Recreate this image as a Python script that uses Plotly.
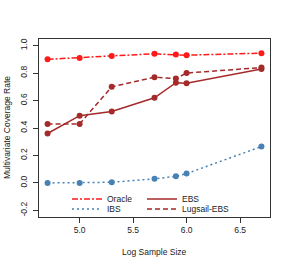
import plotly.graph_objects as go

log_n = [4.7, 5.0, 5.3, 5.7, 5.9, 6.0, 6.7]
oracle = [0.90, 0.91, 0.925, 0.94, 0.935, 0.93, 0.945]
ebs = [0.36, 0.49, 0.52, 0.62, 0.73, 0.725, 0.83]
ibs = [0.0, 0.0, 0.005, 0.03, 0.048, 0.068, 0.265]
lugsail = [0.43, 0.43, 0.70, 0.77, 0.76, 0.80, 0.84]

series_names = ["Oracle", "IBS", "EBS", "Lugsail-EBS"]
x_ticks = [5.0, 5.5, 6.0, 6.5]
y_ticks = [-0.2, 0.0, 0.2, 0.4, 0.6, 0.8, 1.0]

RED = "#FF1A1A"
BROWN = "#A52A2A"
BLUE = "#4682B4"
FAM = "Liberation Sans, Arial, sans-serif"
TXT = "#222"
FS = 8.5

W, H = 291, 267
L, R, T, B = 39, 21, 39, 50
PW, PH = W - L - R, H - T - B

fig = go.Figure()

specs = [
    (series_names[0], oracle, RED, "6px,2px,2px,2px", "legend", 107, 199),
    (series_names[1], ibs, BLUE, "2px,3px", "legend2", 107, 209),
    (series_names[2], ebs, BROWN, "solid", "legend3", 182, 199),
    (series_names[3], lugsail, BROWN, "5px,3px", "legend4", 182, 209),
]

legends = {}
for name, y, color, dash, leg, tx, ty in specs:
    fig.add_trace(go.Scatter(
        x=log_n, y=y, name=name, mode="lines+markers",
        line=dict(color=color, dash=dash, width=1.5),
        marker=dict(color=color, size=6, symbol="circle"),
        showlegend=False,
    ))
    fig.add_trace(go.Scatter(
        x=[None], y=[None], name=name, mode="lines",
        line=dict(color=color, dash=dash, width=1.5),
        legend=leg, showlegend=True, hoverinfo="skip",
    ))
    legends[leg] = dict(
        x=(tx - 40 - L) / PW, y=(T + PH - ty) / PH,
        xanchor="left", yanchor="middle", orientation="h",
        bgcolor="rgba(0,0,0,0)", borderwidth=0,
        font=dict(family=FAM, size=FS, color=TXT),
    )

fig.update_layout(
    width=W, height=H,
    margin=dict(l=L, r=R, t=T, b=B),
    paper_bgcolor="white", plot_bgcolor="white",
    font=dict(family=FAM, size=FS, color=TXT),
    showlegend=True,
    **legends,
    xaxis=dict(
        range=[4.62, 6.78], tickvals=x_ticks, ticktext=[f"{v:.1f}" for v in x_ticks],
        showgrid=False, zeroline=False, showline=True, mirror=True, linecolor="#333", linewidth=1,
        ticks="outside", ticklen=5, tickcolor="#333", automargin=False,
        tickfont=dict(family=FAM, size=FS, color=TXT),
    ),
    yaxis=dict(
        range=[-0.248, 1.048], tickvals=y_ticks, ticktext=[f"{v:.1f}" for v in y_ticks],
        tickangle=-90, ticklabelstandoff=3,
        showgrid=False, zeroline=False, showline=True, mirror=True, linecolor="#333", linewidth=1,
        ticks="outside", ticklen=5, tickcolor="#333", automargin=False,
        tickfont=dict(family=FAM, size=FS, color=TXT),
    ),
    annotations=[
        dict(text="Log Sample Size", xref="paper", yref="paper", x=0.5, y=-(252 - (T + PH)) / PH,
             xanchor="center", yanchor="middle", showarrow=False, font=dict(family=FAM, size=FS, color=TXT)),
        dict(text="Multivariate Coverage Rate", xref="paper", yref="paper", x=-(L - 7) / PW,
             y=0.5, xanchor="center", yanchor="middle", textangle=-90, showarrow=False,
             font=dict(family=FAM, size=FS, color=TXT)),
    ],
)

fig.write_html("out.html", config={"displayModeBar": False},
               post_script=["document.body.style.margin='0';"])
